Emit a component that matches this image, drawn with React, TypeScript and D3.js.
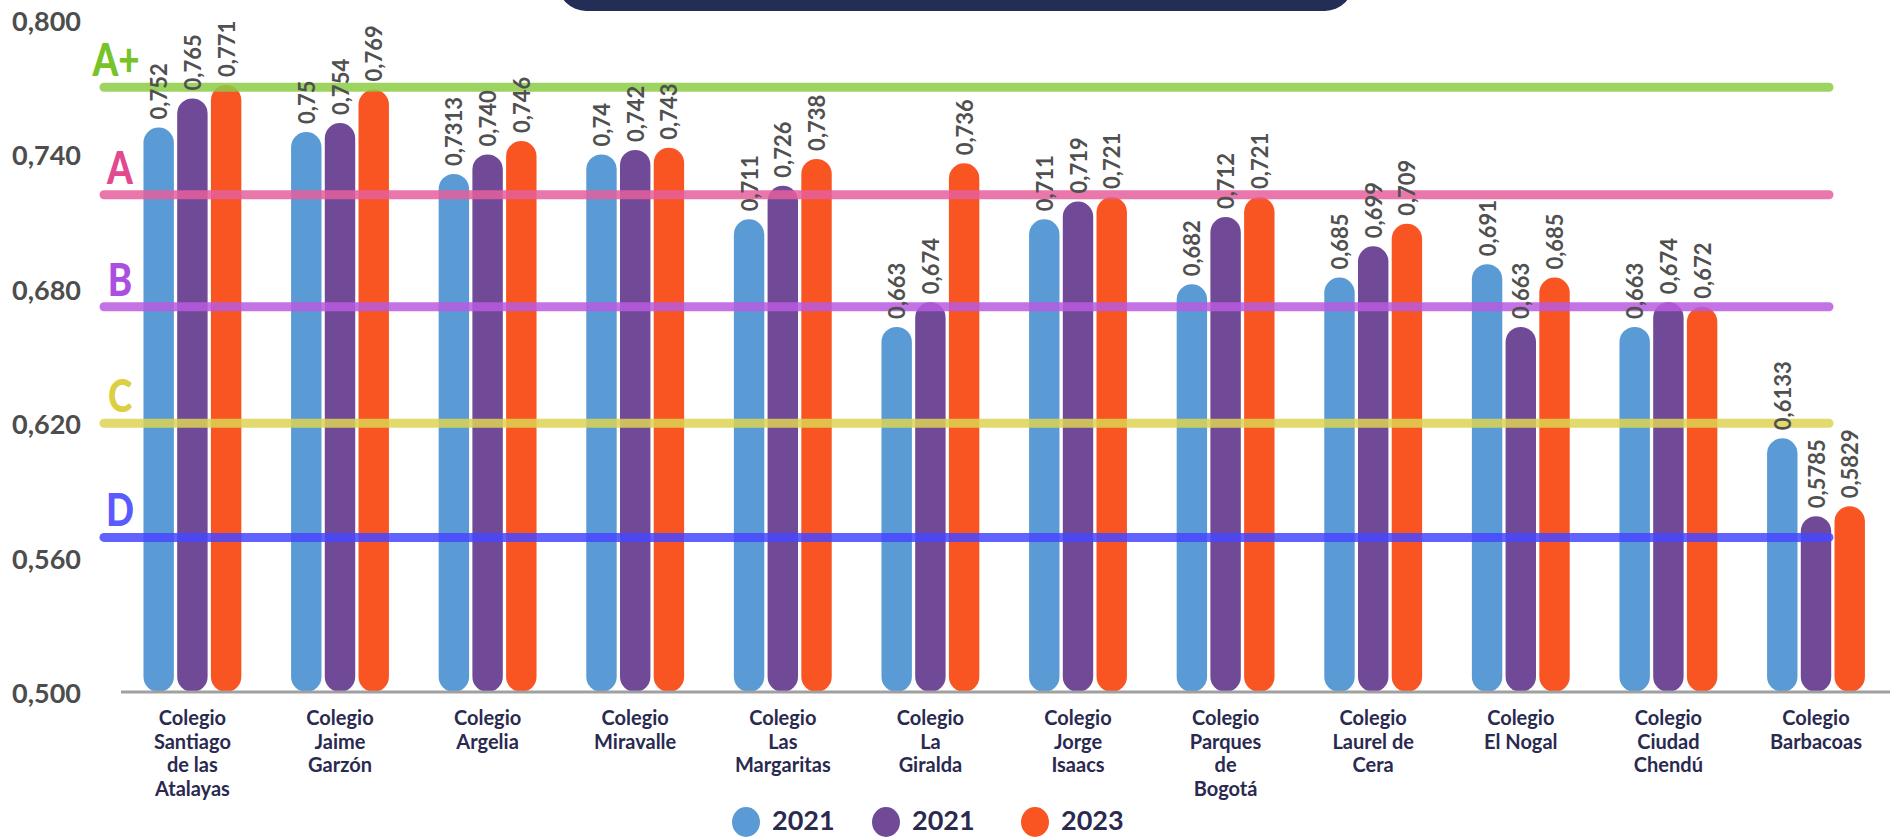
import React from 'react';
import * as d3 from 'd3';

const categories = [
  'Colegio Santiago de las Atalayas',
  'Colegio Jaime Garzón',
  'Colegio Argelia',
  'Colegio Miravalle',
  'Colegio Las Margaritas',
  'Colegio La Giralda',
  'Colegio Jorge Isaacs',
  'Colegio Parques de Bogotá',
  'Colegio Laurel de Cera',
  'Colegio El Nogal',
  'Colegio Ciudad Chendú',
  'Colegio Barbacoas',
];

// how each category label breaks into lines under the axis
const categoryLines = [
  ['Colegio', 'Santiago', 'de las', 'Atalayas'],
  ['Colegio', 'Jaime', 'Garzón'],
  ['Colegio', 'Argelia'],
  ['Colegio', 'Miravalle'],
  ['Colegio', 'Las', 'Margaritas'],
  ['Colegio', 'La', 'Giralda'],
  ['Colegio', 'Jorge', 'Isaacs'],
  ['Colegio', 'Parques', 'de', 'Bogotá'],
  ['Colegio', 'Laurel de', 'Cera'],
  ['Colegio', 'El Nogal'],
  ['Colegio', 'Ciudad', 'Chendú'],
  ['Colegio', 'Barbacoas'],
];

// values kept as written in the chart (so "0,740" keeps its trailing zero)
const values2021a = ['0.752', '0.75', '0.7313', '0.74', '0.711', '0.663', '0.711', '0.682', '0.685', '0.691', '0.663', '0.6133'];
const values2021b = ['0.765', '0.754', '0.740', '0.742', '0.726', '0.674', '0.719', '0.712', '0.699', '0.663', '0.674', '0.5785'];
const values2023 = ['0.771', '0.769', '0.746', '0.743', '0.738', '0.736', '0.721', '0.721', '0.709', '0.685', '0.672', '0.5829'];

const seriesKeys = ['s2021a', 's2021b', 's2023'];
const seriesNames = ['2021', '2021', '2023'];
const seriesColors = ['#5B9BD5', '#704A97', '#F95522'];
const seriesValues = [values2021a, values2021b, values2023];

const yTicks = [0.5, 0.56, 0.62, 0.68, 0.74, 0.8];

const gradeNames = ['A+', 'A', 'B', 'C', 'D'];
const gradeValues = [0.77, 0.722, 0.672, 0.62, 0.569];
const gradeLineColors = ['#8CCB45', '#E65F9C', '#B85ADF', '#DDD452', '#4646FF'];
const gradeTextColors = ['#78C22A', '#E24A8F', '#AB4FE0', '#DCCF43', '#5A5AFF'];

const W = 1892;
const H = 839;
const FONT = 'Lato, "Open Sans", sans-serif';
const TEXT_GREY = '#4D4D4D';
const NAVY = '#2A2A50';

const App: React.FC = () => {
  const y = d3.scaleLinear().domain([0.5, 0.8]).range([692, 20]);

  const x0 = d3.scaleBand<string>()
    .domain(categories)
    .range([118.6, 1889.8])
    .paddingInner(0.337)
    .paddingOuter(0.1685);

  const x1 = d3.scaleBand<string>()
    .domain(seriesKeys)
    .range([0, x0.bandwidth()])
    .paddingInner(0.098);

  const bw = x1.bandwidth();
  const fmt = (s: string) => s.replace('.', ',');
  const tickFmt = (v: number) => d3.format('.3f')(v).replace('.', ',');

  return (
    <svg
      width={W}
      height={H}
      style={{ position: 'absolute', left: 0, top: 0, display: 'block', background: '#fff' }}
      fontFamily={FONT}
    >
      {/* title box, mostly cut off at the top */}
      <rect x={558} y={-50} width={795} height={61} rx={28} fill="#232D55" />

      {/* y tick labels */}
      {yTicks.map((t) => (
        <text
          key={t}
          x={12}
          y={y(t) + 4}
          dominantBaseline="middle"
          fontSize={27}
          fontWeight={700}
          fill={TEXT_GREY}
        >
          {tickFmt(t)}
        </text>
      ))}

      {/* bars */}
      {categories.map((c, i) => (
        <g key={c} transform={`translate(${x0(c)},0)`}>
          {seriesKeys.map((k, j) => {
            const v = parseFloat(seriesValues[j][i]);
            const top = y(v);
            return (
              <rect
                key={k}
                x={x1(k)}
                y={top}
                width={bw}
                height={y(0.5) - top}
                rx={bw / 2}
                fill={seriesColors[j]}
              />
            );
          })}
        </g>
      ))}

      {/* axis baseline */}
      <line x1={121} x2={1890} y1={692} y2={692} stroke="#A0A0A0" strokeWidth={3} />

      {/* grade reference lines */}
      {gradeValues.map((g, i) => (
        <g key={gradeNames[i]}>
          <line
            x1={104}
            x2={1829}
            y1={y(g)}
            y2={y(g)}
            stroke={gradeLineColors[i]}
            strokeWidth={9}
            strokeLinecap="round"
            strokeOpacity={0.85}
          />
          <text
            transform={`translate(${i === 0 ? 116 : 120},${y(g) - 11}) scale(0.8,1)`}
            textAnchor="middle"
            fontSize={46}
            fontWeight={900}
            fill={gradeTextColors[i]}
          >
            {gradeNames[i]}
          </text>
        </g>
      ))}

      {/* value labels */}
      {categories.map((c, i) => (
        <g key={c + '-lbl'}>
          {seriesKeys.map((k, j) => {
            const s = seriesValues[j][i];
            const cx = (x0(c) ?? 0) + (x1(k) ?? 0) + bw / 2;
            const top = y(parseFloat(s));
            return (
              <text
                key={k}
                transform={`translate(${cx},${top - 8}) rotate(-90)`}
                textAnchor="start"
                dominantBaseline="central"
                fontSize={22}
                fontWeight={700}
                fill="#505050"
              >
                {fmt(s)}
              </text>
            );
          })}
        </g>
      ))}

      {/* category labels */}
      {categories.map((c, i) => (
        <text
          key={c + '-cat'}
          x={(x0(c) ?? 0) + x0.bandwidth() / 2}
          y={725}
          textAnchor="middle"
          fontSize={20}
          fontWeight={700}
          fill={NAVY}
        >
          {categoryLines[i].map((line, li) => (
            <tspan key={li} x={(x0(c) ?? 0) + x0.bandwidth() / 2} dy={li === 0 ? 0 : 23.5}>
              {line}
            </tspan>
          ))}
        </text>
      ))}

      {/* legend */}
      {seriesNames.map((n, i) => {
        const cx = [746, 886, 1035][i];
        return (
          <g key={i}>
            <ellipse cx={cx} cy={822} rx={14} ry={15} fill={seriesColors[i]} />
            <text x={cx + 26} y={823} dominantBaseline="middle" fontSize={27} fontWeight={700} fill={NAVY}>
              {n}
            </text>
          </g>
        );
      })}
    </svg>
  );
};

export default App;
